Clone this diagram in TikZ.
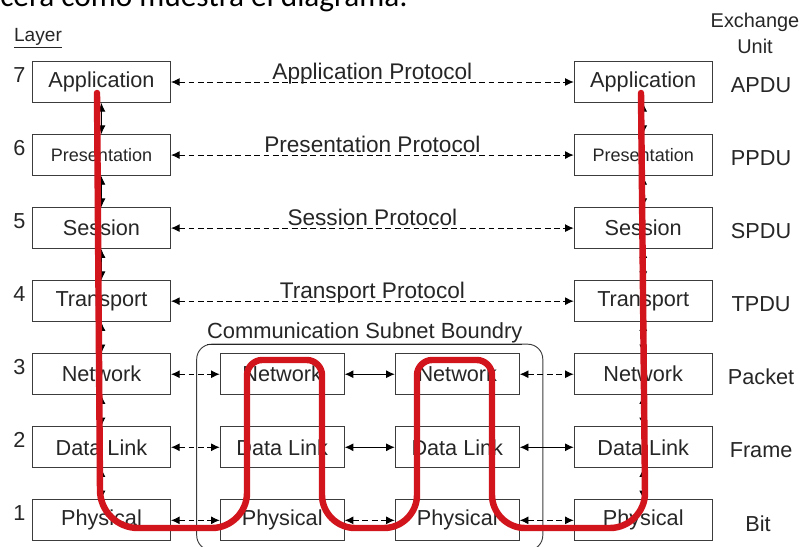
\documentclass[tikz,border=0pt]{standalone}
\usepackage{fontspec}
\setmainfont{Liberation Sans}
\newfontfamily\notefont{Carlito}
\usetikzlibrary{arrows.meta,positioning,fit}
\definecolor{cbox}{HTML}{3C3C3C}
\definecolor{ctext}{HTML}{262626}
\definecolor{croute}{HTML}{D2141C}
\tikzset{
  lbox/.style={draw=cbox, line width=0.9pt, minimum width=41.4mm, minimum height=12.3mm,
               inner sep=0pt, text=ctext, font=\fontsize{18.5}{20}\selectfont},
  sbox/.style={lbox, minimum width=37.2mm},
  lnum/.style={text=ctext, inner sep=0pt, font=\fontsize{18.5}{20}\selectfont},
  unit/.style={lnum, yshift=-0.9mm},
  proto/.style={text=ctext, inner sep=0pt, anchor=base, yshift=2pt, font=\fontsize{19.3}{21}\selectfont},
  peer/.style={{Latex[length=2.6mm,width=2.4mm]}-{Latex[length=2.6mm,width=2.4mm]}, line width=0.8pt,
               dash pattern=on 5pt off 3pt},
  link/.style={{Latex[length=2.6mm,width=2.4mm]}-{Latex[length=2.6mm,width=2.4mm]}, line width=0.8pt},
  route/.style={draw=croute, line width=5.5pt, line cap=round, line join=round},
}
\begin{document}
\begin{tikzpicture}[x=0.3mm, y=-0.3mm]
  \useasboundingbox (0,0) rectangle (803,547);
  \clip (0,0) rectangle (803,547);
  % text of the page, cut off
  \node[anchor=base east, inner sep=0pt, font=\notefont\fontsize{26.7}{28}\selectfont] (note) at (408,7) {cera como muestra el diagrama:};
  % headings
  \node[lnum, font=\fontsize{16.3}{18}\selectfont] (layer) at (38,38) {\underline{Layer}};
  \node[lnum, align=center, font=\fontsize{17}{22}\selectfont] (xunit) at (755,33) {Exchange\\Unit};
  % host A
  \node[lbox] (la) at (101.5,82) {Application};
  \node[lbox, below=9.3mm of la, font=\fontsize{15.4}{17}\selectfont] (lpr) {Presentation};
  \node[lbox, below=9.3mm of lpr] (lse) {Session};
  \node[lbox, below=9.3mm of lse] (ltr) {Transport};
  \node[lbox, below=9.3mm of ltr] (lnw) {Network};
  \node[lbox, below=9.3mm of lnw] (ldl) {Data Link};
  \node[lbox, below=9.3mm of ldl] (lph) {Physical};
  % host B
  \node[lbox, right=120.8mm of la] (ra) {Application};
  \node[lbox, below=9.3mm of ra, font=\fontsize{15.4}{17}\selectfont] (rpr) {Presentation};
  \node[lbox, below=9.3mm of rpr] (rse) {Session};
  \node[lbox, below=9.3mm of rse] (rtr) {Transport};
  \node[lbox, below=9.3mm of rtr] (rnw) {Network};
  \node[lbox, below=9.3mm of rnw] (rdl) {Data Link};
  \node[lbox, below=9.3mm of rdl] (rph) {Physical};
  % the two routers
  \node[sbox, right=14.6mm of lnw] (anw) {Network};
  \node[sbox, right=14.6mm of ldl] (adl) {Data Link};
  \node[sbox, right=14.6mm of lph] (aph) {Physical};
  \node[sbox, right=15mm of anw] (bnw) {Network};
  \node[sbox, right=15mm of adl] (bdl) {Data Link};
  \node[sbox, right=15mm of aph] (bph) {Physical};
  \node[draw=cbox, line width=0.8pt, rounded corners=4.5mm, inner xsep=6.9mm, inner ysep=2.7mm,
        fit=(anw)(bph)] (subnet) {};
  \node[lnum, anchor=base, font=\fontsize{18.7}{20}\selectfont] (subtitle) at ([xshift=-1.5mm, yshift=1.6mm]subnet.north) {\underline{Communication Subnet Boundry}};
  % layer numbers
  \node[lnum, anchor=base east] at ([xshift=-1.9mm, yshift=-6.4mm]la.north west) {7};
  \node[lnum, anchor=base east] at ([xshift=-1.9mm, yshift=-6.4mm]lpr.north west) {6};
  \node[lnum, anchor=base east] at ([xshift=-1.9mm, yshift=-6.4mm]lse.north west) {5};
  \node[lnum, anchor=base east] at ([xshift=-1.9mm, yshift=-6.4mm]ltr.north west) {4};
  \node[lnum, anchor=base east] at ([xshift=-1.9mm, yshift=-6.4mm]lnw.north west) {3};
  \node[lnum, anchor=base east] at ([xshift=-1.9mm, yshift=-6.4mm]ldl.north west) {2};
  \node[lnum, anchor=base east] at ([xshift=-1.9mm, yshift=-6.4mm]lph.north west) {1};
  % exchange units
  \node[unit] at ([xshift=14.5mm]ra.east) {APDU};
  \node[unit] at ([xshift=14.5mm]rpr.east) {PPDU};
  \node[unit] at ([xshift=14.5mm]rse.east) {SPDU};
  \node[unit] at ([xshift=14.5mm]rtr.east) {TPDU};
  \node[unit] at ([xshift=14.5mm]rnw.east) {Packet};
  \node[unit] at ([xshift=14.5mm]rdl.east) {Frame};
  \node[unit] at ([xshift=13.6mm]rph.east) {Bit};
  % peer protocols
  \draw[peer] (la) -- node[proto] {Application Protocol} (ra);
  \draw[peer] (lpr) -- node[proto] {Presentation Protocol} (rpr);
  \draw[peer] (lse) -- node[proto] {Session Protocol} (rse);
  \draw[peer] (ltr) -- node[proto] {Transport Protocol} (rtr);
  \draw[peer] (lnw) -- (anw); \draw[link] (anw) -- (bnw); \draw[peer] (bnw) -- (rnw);
  \draw[peer] (ldl) -- (adl); \draw[link] (adl) -- (bdl); \draw[link] (bdl) -- (rdl);
  \draw[peer] (lph) -- (aph); \draw[peer] (aph) -- (bph); \draw[peer] (bph) -- (rph);
  % up and down the stacks
  \draw[link] (la) -- (lpr); \draw[link] (lpr) -- (lse); \draw[link] (lse) -- (ltr);
  \draw[link] (ltr) -- (lnw); \draw[link] (lnw) -- (ldl); \draw[link] (ldl) -- (lph);
  \draw[link] (ra) -- (rpr); \draw[link] (rpr) -- (rse); \draw[link] (rse) -- (rtr);
  \draw[link] (rtr) -- (rnw); \draw[link] (rnw) -- (rdl); \draw[link] (rdl) -- (rph);
  % path of the data
  \draw[route] (97,93) -- (100,490) .. controls (100,511) and (117,528) .. (138,528) -- (212,528)
    .. controls (231,528) and (247,512) .. (247,493) -- (247,375)
    .. controls (247,367) and (254,360) .. (262,360) -- (307,360)
    .. controls (315,360) and (322,367) .. (322,375) -- (322,495)
    .. controls (322,513) and (337,528) .. (355,528) -- (384,528)
    .. controls (402,528) and (417,513) .. (417,495) -- (417,375)
    .. controls (417,367) and (424,360) .. (432,360) -- (477,360)
    .. controls (485,360) and (492,367) .. (492,375) -- (492,495)
    .. controls (492,513) and (507,528) .. (525,528) -- (610,528)
    .. controls (629,528) and (645,512) .. (645,493) -- (641,93);
\end{tikzpicture}
\end{document}
